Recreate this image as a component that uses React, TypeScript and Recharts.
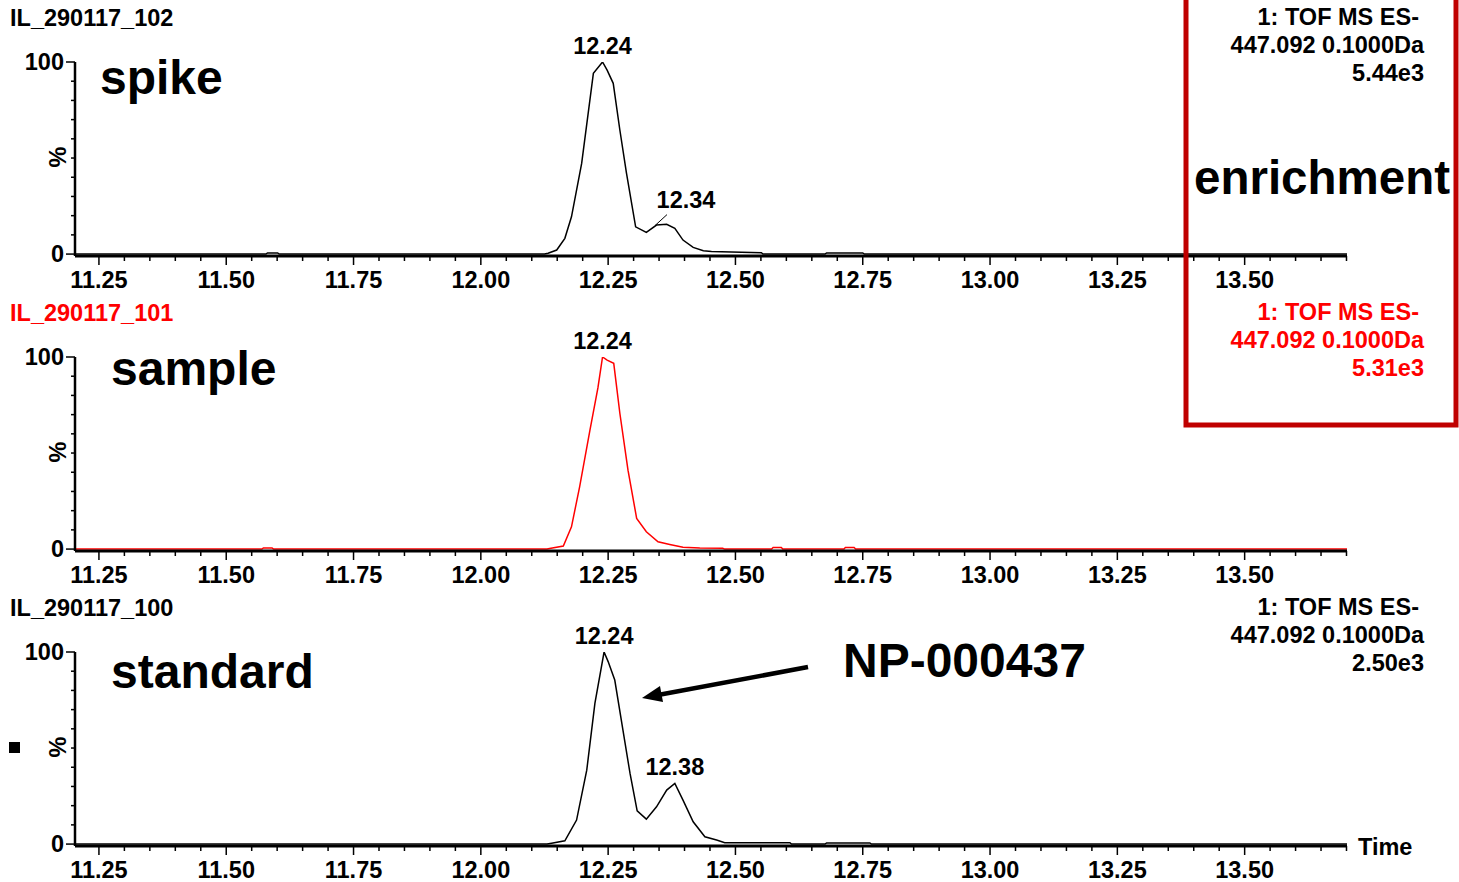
import { LineChart, Line, XAxis, YAxis, ReferenceDot } from 'recharts';

const W = 1459;
const H = 882;
const PANEL_H = 295;
const FONT = '"Liberation Sans", Arial, Helvetica, sans-serif';

// retention time (min) / relative intensity (%)
const spikeTime = [11.203, 11.578, 11.581, 11.601, 11.604, 12.125, 12.132, 12.149, 12.165, 12.178, 12.198, 12.221, 12.239, 12.248, 12.26, 12.273, 12.286, 12.304, 12.325, 12.345, 12.365, 12.381, 12.397, 12.417, 12.437, 12.453, 12.551, 12.554, 12.676, 12.679, 12.75, 12.753, 13.701];
const spikePct = [0, 0, 0.6, 0.6, 0, 0, 0.4, 2.1, 8.2, 19.4, 47.2, 94.1, 100, 95.8, 88.9, 64.6, 42.2, 14.2, 11.3, 15.1, 15.5, 13.4, 7.3, 3.5, 1.7, 1.4, 0.7, 0, 0, 0.6, 0.6, 0, 0];

const sampleTime = [11.203, 11.57, 11.573, 11.59, 11.593, 12.13, 12.135, 12.162, 12.178, 12.194, 12.214, 12.23, 12.239, 12.248, 12.261, 12.273, 12.289, 12.306, 12.325, 12.348, 12.371, 12.397, 12.43, 12.475, 12.479, 12.571, 12.574, 12.59, 12.593, 12.713, 12.716, 12.733, 12.736, 13.701];
const samplePct = [0, 0, 0.6, 0.6, 0, 0, 0.3, 1.6, 11.6, 32.4, 61.5, 84, 100, 98.4, 96.7, 70.7, 41.1, 16, 9, 3.8, 2.4, 0.9, 0.5, 0.4, 0, 0, 0.8, 0.8, 0, 0, 0.8, 0.8, 0, 0];

const standardTime = [11.203, 12.13, 12.139, 12.165, 12.188, 12.208, 12.224, 12.242, 12.25, 12.263, 12.279, 12.293, 12.307, 12.325, 12.345, 12.365, 12.381, 12.397, 12.417, 12.44, 12.463, 12.479, 12.607, 12.61, 12.676, 12.679, 12.764, 12.767, 13.701];
const standardPct = [0, 0, 0.4, 1.7, 12.5, 38.5, 73.3, 100, 95, 85.4, 59.4, 36.8, 17.3, 13, 19.4, 28.1, 31.6, 22.9, 11.6, 3.8, 2.1, 0.7, 0.7, 0, 0, 0.6, 0.6, 0, 0];

// labelled peaks (apex time, intensity, label)
const spikePeaks = [
  { t: 12.239, v: 100, label: '12.24', leader: false },
  { t: 12.34, v: 14.3, label: '12.34', leader: true },
];
const samplePeaks = [{ t: 12.239, v: 100, label: '12.24', leader: false }];
const standardPeaks = [
  { t: 12.242, v: 100, label: '12.24', leader: false },
  { t: 12.381, v: 31.6, label: '12.38', leader: false },
];

const panelNames = ['IL_290117_102', 'IL_290117_101', 'IL_290117_100'];
const panelScales = ['5.44e3', '5.31e3', '2.50e3'];
const panelTags = ['spike', 'sample', 'standard'];
const panelColors = ['#000000', '#ff0000', '#000000'];
const channelLines = ['1: TOF MS ES-', '447.092 0.1000Da'];

const X_DOMAIN: [number, number] = [11.203, 13.701];
const xTicks: number[] = [];
for (let i = 0; i <= 49; i++) xTicks.push(Math.round((11.25 + i * 0.05) * 100) / 100);
const yTicks = [0, 10, 20, 30, 40, 50, 60, 70, 80, 90, 100];

const toRows = (ts: number[], vs: number[]) => ts.map((t, i) => ({ t, v: vs[i] }));
const traces = [
  toRows(spikeTime, spikePct),
  toRows(sampleTime, samplePct),
  toRows(standardTime, standardPct),
];
const peaks = [spikePeaks, samplePeaks, standardPeaks];

const SMALL = 23.5;

function TimeTick(props: any) {
  const { x, y, payload } = props;
  const major = Math.round(payload.value * 100) % 25 === 0;
  return (
    <g>
      <line x1={x} x2={x} y1={y} y2={y + (major ? 9 : 5)} stroke="#000" strokeWidth={1.5} />
      {major && (
        <text x={x} y={y + 32} textAnchor="middle" fontFamily={FONT} fontWeight={700} fontSize={SMALL} fill="#000">
          {payload.value.toFixed(2)}
        </text>
      )}
    </g>
  );
}

function PctTick(props: any) {
  const { x, y, payload } = props;
  const major = payload.value === 0 || payload.value === 100;
  return (
    <g>
      <line x1={x - (major ? 9 : 4)} x2={x} y1={y} y2={y} stroke="#000" strokeWidth={1.5} />
      {major && (
        <text x={x - 11} y={y} dy="0.35em" textAnchor="end" fontFamily={FONT} fontWeight={700} fontSize={SMALL} fill="#000">
          {payload.value}
        </text>
      )}
    </g>
  );
}

function PeakLabel({ cx, cy, text, leader }: any) {
  const style = { fontFamily: FONT, fontWeight: 700, fontSize: SMALL };
  if (leader) {
    return (
      <g>
        <line x1={cx + 1} y1={cy - 1} x2={cx + 13} y2={cy - 12} stroke="#000" strokeWidth={1} />
        <text x={cx + 32} y={cy - 19} textAnchor="middle" fill="#000" style={style}>
          {text}
        </text>
      </g>
    );
  }
  return (
    <text x={cx} y={cy - 8} textAnchor="middle" fill="#000" style={style}>
      {text}
    </text>
  );
}

function Trace({ index }: { index: number }) {
  return (
    <div style={{ position: 'absolute', left: 0, top: index * PANEL_H }}>
      <LineChart width={W} height={PANEL_H} data={traces[index]} margin={{ top: 62, right: 112, bottom: 0, left: 0 }}>
        <XAxis
          dataKey="t"
          type="number"
          domain={X_DOMAIN}
          ticks={xTicks}
          interval={0}
          tickSize={0}
          tickMargin={0}
          height={39}
          allowDataOverflow
          axisLine={{ stroke: '#000', strokeWidth: 3 }}
          tick={(p: any) => <TimeTick {...p} />}
        />
        <YAxis
          type="number"
          domain={[-1, 100]}
          ticks={yTicks}
          interval={0}
          tickSize={0}
          tickMargin={0}
          width={75}
          allowDataOverflow
          axisLine={{ stroke: '#000', strokeWidth: 2.5 }}
          tick={(p: any) => <PctTick {...p} />}
        />
        <Line
          dataKey="v"
          type="linear"
          stroke={panelColors[index]}
          strokeWidth={1.5}
          dot={false}
          activeDot={false}
          isAnimationActive={false}
        />
        {peaks[index].map((pk) => (
          <ReferenceDot
            key={pk.label}
            x={pk.t}
            y={pk.v}
            r={0}
            shape={(p: any) => <PeakLabel cx={p.cx} cy={p.cy} text={pk.label} leader={pk.leader} />}
          />
        ))}
      </LineChart>
    </div>
  );
}

export default function App() {
  const small = { fontFamily: FONT, fontWeight: 700, fontSize: SMALL };
  const big = { fontFamily: FONT, fontWeight: 700, fontSize: 48 };
  const tagPos = [
    [100, 94],
    [111, 385],
    [111, 688],
  ];
  return (
    <div style={{ position: 'absolute', left: 0, top: 0, width: W, height: H, background: '#fff', fontFamily: FONT, overflow: 'hidden' }}>
      {[0, 1, 2].map((i) => (
        <Trace key={i} index={i} />
      ))}
      <svg width={W} height={H} style={{ position: 'absolute', left: 0, top: 0, pointerEvents: 'none' }}>
        {[0, 1, 2].map((i) => {
          const o = i * PANEL_H;
          const c = panelColors[i];
          return (
            <g key={i}>
              <text x={10} y={o + 26} fill={c} style={small}>
                {panelNames[i]}
              </text>
              <text x={1419} y={o + 25} fill={c} textAnchor="end" style={small}>
                {channelLines[0]}
              </text>
              <text x={1424} y={o + 53} fill={c} textAnchor="end" style={small}>
                {channelLines[1]}
              </text>
              <text x={1424} y={o + 81} fill={c} textAnchor="end" style={small}>
                {panelScales[i]}
              </text>
              <text x={66} y={o + 157} textAnchor="middle" transform={`rotate(-90 66 ${o + 157})`} fill="#000" style={small}>
                %
              </text>
              <text x={tagPos[i][0]} y={tagPos[i][1]} fill="#000" style={big}>
                {panelTags[i]}
              </text>
            </g>
          );
        })}
        <rect x={1186} y={-10} width={270} height={435} fill="none" stroke="#c00000" strokeWidth={5} />
        <text x={1194} y={194} fill="#000" style={{ ...big, fontSize: 47.5 }}>
          enrichment
        </text>
        <text x={843} y={677} fill="#000" style={big}>
          NP-000437
        </text>
        <line x1={808} y1={667} x2={658} y2={695} stroke="#000" strokeWidth={4.5} />
        <polygon points="642,698 663,702 660,686" fill="#000" />
        <rect x={9} y={742} width={11} height={11} fill="#000" />
        <text x={1358} y={855} fill="#000" style={small}>
          Time
        </text>
      </svg>
    </div>
  );
}
